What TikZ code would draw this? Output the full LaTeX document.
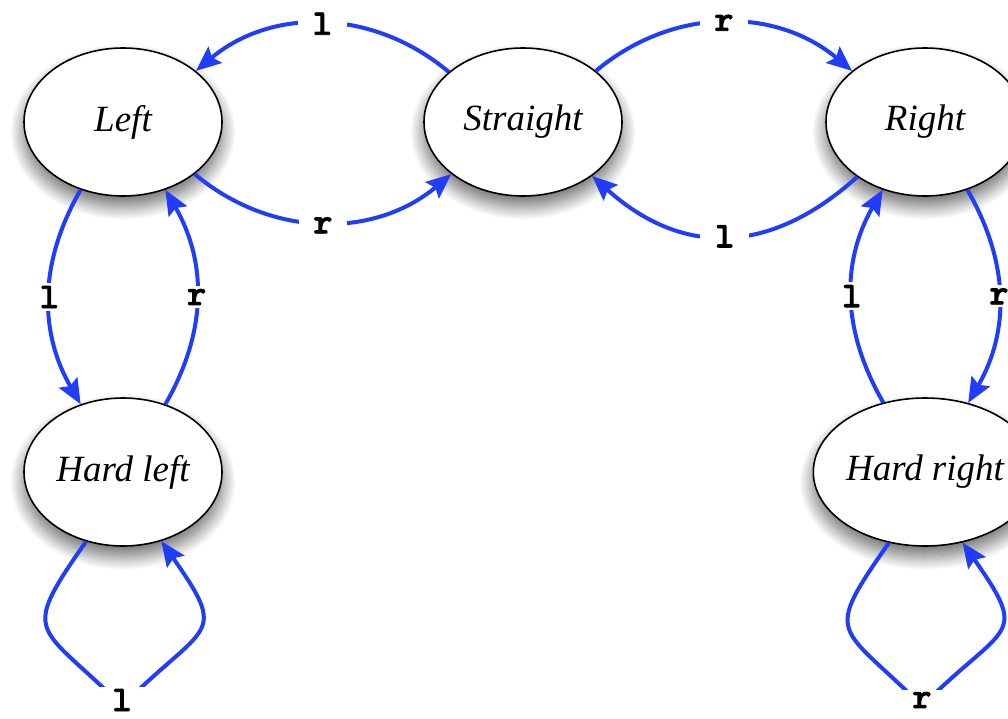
\documentclass[tikz,border=0pt]{standalone}
\usepackage{fontspec}
\setmainfont{Liberation Serif}
\newfontfamily\labfont{lmmonolt10-bold.otf}[FakeBold=2.5]
\usetikzlibrary{arrows.meta,shapes.geometric,shadows.blur}
\definecolor{eblue}{RGB}{32,62,250}
\begin{document}
\begin{tikzpicture}[x=1pt,y=-1pt,
  state/.style={ellipse,draw=black,line width=1.6pt,fill=white,
    minimum width=198pt,minimum height=148pt,inner sep=0pt,
    font=\fontsize{37}{42}\selectfont\itshape,
    blur shadow={shadow xshift=0pt,shadow yshift=-10pt,shadow blur radius=14pt,
      shadow blur steps=24,shadow opacity=60}},
  edge/.style={draw=eblue,line width=4pt,
    -{Stealth[length=25pt,width=21pt,inset=4pt]}},
  lab/.style={fill=white,inner xsep=15pt,inner ysep=3pt,
    font=\fontsize{36}{38}\labfont},
  looplab/.style={lab,inner xsep=27pt,inner ysep=2pt}]
\useasboundingbox (0,0) rectangle (1008,718);
\node[state] (L)  at (123,122) {Left};
\node[state] (S)  at (523,122) {Straight};
\node[state] (R)  at (925,122) {Right};
\node[state] (HL) at (123,472) {Hard left};
\node[state] (HR) at (925,472) {Hard right};
\coordinate (hlb) at (122,706);
\coordinate (hrb) at (922,706);
% top row
\path[edge] (S.146) to[out=140,in=40] node[lab] {l} (L.35);
\path[edge] (L.-36) to[out=-40,in=-140] node[lab,yshift=-3pt] {r} (S.-144);
\path[edge] (S.35) to[out=40,in=140] node[lab] {r} (R.145);
\path[edge] (R.-141) to[out=-138,in=-42,looseness=1.15] node[lab] {l} (S.-38);
% left column
\path[edge] (L.-122) to[out=-120,in=120] node[lab] {l} (HL.122);
\path[edge] (HL.58) to[out=60,in=-60] node[lab] {r} (L.-58);
\path[edge] (HL.-118) to[out=-125,in=135,looseness=1.8] (hlb)
  to[out=45,in=-55,looseness=1.8] (HL.-61);
\node[looplab] at (122,700) {l};
% right column
\path[edge] (R.-58) to[out=-60,in=60] node[lab] {r} (HR.58);
\path[edge] (HR.121) to[out=120,in=-120] node[lab] {l} (R.-122);
\path[edge] (HR.-117) to[out=-125,in=135,looseness=1.8] (hrb)
  to[out=45,in=-55,looseness=1.8] (HR.-62);
\node[looplab] at (922,700) {r};
\end{tikzpicture}
\end{document}
